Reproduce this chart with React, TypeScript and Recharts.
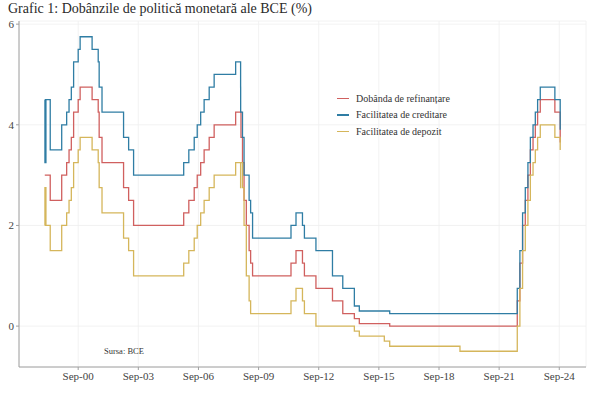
import { LineChart, Line, XAxis, YAxis, CartesianGrid } from 'recharts';

// ECB policy rate decisions (effective dates)
const changeDates = [
  '1999-01-01', '1999-01-04', '1999-01-22', '1999-04-09', '1999-11-05',
  '2000-02-04', '2000-03-17', '2000-04-28', '2000-06-09', '2000-09-01', '2000-10-06',
  '2001-05-11', '2001-08-31', '2001-09-18', '2001-11-09',
  '2002-12-06', '2003-03-07', '2003-06-06',
  '2005-12-06', '2006-03-08', '2006-06-15', '2006-08-09', '2006-10-11', '2006-12-13',
  '2007-03-14', '2007-06-13', '2008-07-09', '2008-10-08', '2008-10-09', '2008-10-15',
  '2008-11-12', '2008-12-10', '2009-01-21', '2009-03-11', '2009-04-08', '2009-05-13',
  '2011-04-13', '2011-07-13', '2011-11-09', '2011-12-14', '2012-07-11',
  '2013-05-08', '2013-11-13', '2014-06-11', '2014-09-10', '2015-12-09', '2016-03-16',
  '2019-09-18', '2022-07-27', '2022-09-14', '2022-11-02', '2022-12-21',
  '2023-02-08', '2023-03-22', '2023-05-10', '2023-06-21', '2023-08-02', '2023-09-20',
  '2024-06-12', '2024-09-18',
];

const refiRate = [
  3.0, 3.0, 3.0, 2.5, 3.0,
  3.25, 3.5, 3.75, 4.25, 4.5, 4.75,
  4.5, 4.25, 3.75, 3.25,
  2.75, 2.5, 2.0,
  2.25, 2.5, 2.75, 3.0, 3.25, 3.5,
  3.75, 4.0, 4.25, 4.25, 4.25, 3.75,
  3.25, 2.5, 2.0, 1.5, 1.25, 1.0,
  1.25, 1.5, 1.25, 1.0, 0.75,
  0.5, 0.25, 0.15, 0.05, 0.05, 0.0,
  0.0, 0.5, 1.25, 2.0, 2.5,
  3.0, 3.5, 3.75, 4.0, 4.25, 4.5,
  4.25, 3.65,
];

const lendingRate = [
  4.5, 3.25, 4.5, 3.5, 4.0,
  4.25, 4.5, 4.75, 5.25, 5.5, 5.75,
  5.5, 5.25, 4.75, 4.25,
  3.75, 3.5, 3.0,
  3.25, 3.5, 3.75, 4.0, 4.25, 4.5,
  4.75, 5.0, 5.25, 4.75, 4.25, 4.25,
  3.75, 3.0, 3.0, 2.5, 2.25, 1.75,
  2.0, 2.25, 2.0, 1.75, 1.5,
  1.0, 0.75, 0.4, 0.3, 0.3, 0.25,
  0.25, 0.75, 1.5, 2.25, 2.75,
  3.25, 3.75, 4.0, 4.25, 4.5, 4.75,
  4.5, 3.9,
];

const depositRate = [
  2.0, 2.75, 2.0, 1.5, 2.0,
  2.25, 2.5, 2.75, 3.25, 3.5, 3.75,
  3.5, 3.25, 2.75, 2.25,
  1.75, 1.5, 1.0,
  1.25, 1.5, 1.75, 2.0, 2.25, 2.5,
  2.75, 3.0, 3.25, 2.75, 3.25, 3.25,
  2.75, 2.0, 1.0, 0.5, 0.25, 0.25,
  0.5, 0.75, 0.5, 0.25, 0.0,
  0.0, 0.0, -0.1, -0.2, -0.3, -0.4,
  -0.5, 0.0, 0.75, 1.5, 2.0,
  2.5, 3.0, 3.25, 3.5, 3.75, 4.0,
  3.75, 3.5,
];

const tickDates = [
  '2000-09-01', '2003-09-01', '2006-09-01', '2009-09-01', '2012-09-01',
  '2015-09-01', '2018-09-01', '2021-09-01', '2024-09-01',
];
const tickLabels = ['Sep-00', 'Sep-03', 'Sep-06', 'Sep-09', 'Sep-12', 'Sep-15', 'Sep-18', 'Sep-21', 'Sep-24'];
const yTicks = [0, 2, 4, 6];

const series = [
  { key: 'refi', name: 'Dobânda de refinanțare', color: '#d0605f' },
  { key: 'lending', name: 'Facilitatea de creditare', color: '#2f7da4' },
  { key: 'deposit', name: 'Facilitatea de depozit', color: '#d5b65b' },
];

const toYear = (s: string) => {
  const [y, m, d] = s.split('-').map(Number);
  return y + (m - 1) / 12 + (d - 1) / 365;
};

const data = changeDates.map((d, i) => ({
  t: toYear(d),
  refi: refiRate[i],
  lending: lendingRate[i],
  deposit: depositRate[i],
}));

const xTicks = tickDates.map(toYear);
const labelFor = (v: number) => {
  const i = xTicks.findIndex((t) => Math.abs(t - v) < 0.01);
  return i >= 0 ? tickLabels[i] : '';
};

const xDomain = [1997.714, 2026.0];
const yDomain = [-0.8125, 6.0625];
const font = 'Liberation Serif';
const frame = '#a0a0a0';

export default function App() {
  return (
    <div style={{ position: 'absolute', left: 0, top: 0, width: 600, height: 399, background: '#fff', fontFamily: font }}>
      <div style={{ position: 'absolute', left: 8, top: 1, fontSize: 14, color: '#2a2a2a', whiteSpace: 'nowrap' }}>
        Grafic 1: Dobânzile de politică monetară ale BCE (%)
      </div>
      <LineChart
        width={600}
        height={399}
        data={data}
        margin={{ top: 21, right: 14, bottom: 12, left: 0 }}
        style={{ fontFamily: font }}
      >
        <CartesianGrid stroke="#efefef" strokeWidth={0.8} />
        <XAxis
          dataKey="t"
          type="number"
          domain={xDomain}
          allowDataOverflow
          ticks={xTicks}
          tickFormatter={labelFor}
          height={20}
          tickSize={3}
          tickMargin={2}
          stroke={frame}
          tick={{ fontSize: 11, fill: '#444', fontFamily: font }}
        />
        <XAxis xAxisId="top" orientation="top" type="number" domain={xDomain} allowDataOverflow height={0} tick={false} tickLine={false} stroke={frame} />
        <YAxis
          type="number"
          domain={yDomain}
          allowDataOverflow
          ticks={yTicks}
          width={19}
          tickSize={3}
          tickMargin={2}
          stroke={frame}
          tick={{ fontSize: 11, fill: '#444', fontFamily: font }}
        />
        <YAxis yAxisId="right" orientation="right" type="number" domain={yDomain} allowDataOverflow width={0} tick={false} tickLine={false} stroke={frame} />
        {series.map((s) => (
          <Line
            key={s.key}
            dataKey={s.key}
            name={s.name}
            type="stepAfter"
            stroke={s.color}
            strokeWidth={1.3}
            dot={false}
            isAnimationActive={false}
          />
        ))}
      </LineChart>
      <div style={{ position: 'absolute', left: 337, top: 90, fontSize: 10, color: '#333' }}>
        {series.map((s) => (
          <div key={s.key} style={{ display: 'flex', alignItems: 'center', height: 16.5, whiteSpace: 'nowrap' }}>
            <span style={{ display: 'inline-block', width: 12, height: 1.5, background: s.color, marginRight: 7 }} />
            {s.name}
          </div>
        ))}
      </div>
      <div style={{ position: 'absolute', left: 104, top: 346, fontSize: 8.5, color: '#333' }}>
        Sursa: BCE
      </div>
    </div>
  );
}
